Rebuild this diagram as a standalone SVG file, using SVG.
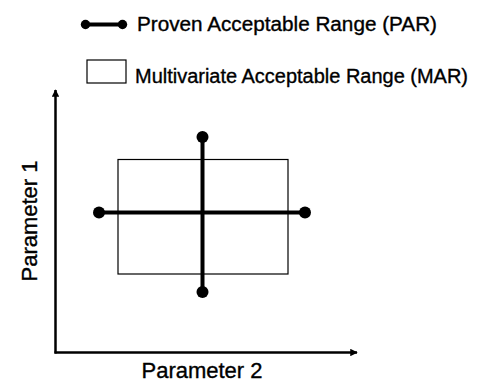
<svg xmlns="http://www.w3.org/2000/svg" width="481" height="383" viewBox="0 0 481 383">
<style>
text{font-family:"Liberation Sans",Arial,sans-serif;fill:#000;stroke:#000;stroke-width:0.35}
.leg{font-size:20px}
.ax{font-size:22px}
.par{stroke:#000;stroke-width:4;fill:none}
.dot{fill:#000}
.mar{fill:#fff;stroke:#000;stroke-width:1.2}
.axis{stroke:#000;stroke-width:2.5;fill:none}
</style>
<defs>
<marker id="arr" viewBox="0 0 10 10" refX="9" refY="5" markerWidth="3.2" markerHeight="3" orient="auto" markerUnits="strokeWidth">
<path d="M0,0 L10,5 L0,10 z" fill="#000"/>
</marker>
</defs>
<g id="legend-par">
<line class="par" x1="84" y1="24.5" x2="124" y2="24.5" stroke-width="3"/>
<circle class="dot" cx="85.5" cy="24.5" r="4.7"/>
<circle class="dot" cx="122.5" cy="24.5" r="4.7"/>
<text class="leg" x="137" y="31" textLength="300" lengthAdjust="spacingAndGlyphs">Proven Acceptable Range (PAR)</text>
</g>
<g id="legend-mar">
<rect class="mar" x="87" y="60" width="39" height="23"/>
<text class="leg" x="135" y="83" textLength="333" lengthAdjust="spacingAndGlyphs">Multivariate Acceptable Range (MAR)</text>
</g>
<g id="connectors">
<line class="axis" x1="55.5" y1="353.5" x2="55.5" y2="90" marker-end="url(#arr)"/>
<line class="axis" x1="54.5" y1="352.5" x2="357" y2="352.5" marker-end="url(#arr)"/>
</g>
<g id="mar">
<rect class="mar" x="118" y="159.5" width="170" height="114.5"/>
</g>
<g id="par-horizontal">
<line class="par" x1="99" y1="212.5" x2="305" y2="212.5"/>
<circle class="dot" cx="99" cy="212.5" r="6"/>
<circle class="dot" cx="305" cy="212.5" r="6"/>
</g>
<g id="par-vertical">
<line class="par" x1="202.5" y1="137" x2="202.5" y2="292"/>
<circle class="dot" cx="202.5" cy="137" r="6"/>
<circle class="dot" cx="202.5" cy="292" r="6"/>
</g>
<g id="labels">
<text class="ax" x="202" y="378" text-anchor="middle">Parameter 2</text>
<text class="ax" transform="translate(37,221) rotate(-90)" text-anchor="middle">Parameter 1</text>
</g>
</svg>
